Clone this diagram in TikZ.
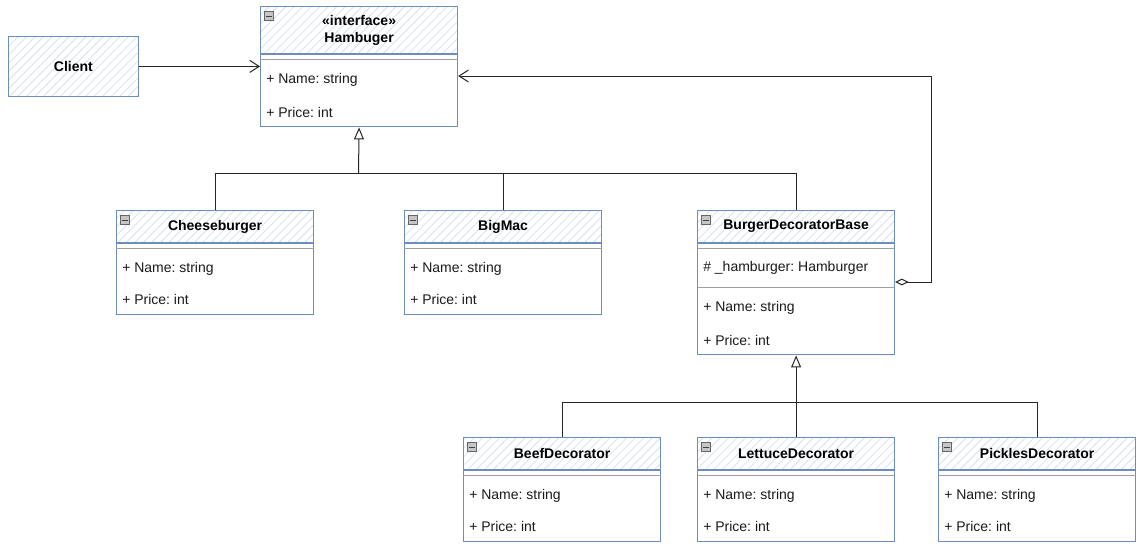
\documentclass[tikz,border=0pt]{standalone}
\usepackage{fontspec}
\setmainfont{Liberation Sans}
\usetikzlibrary{positioning,arrows.meta,patterns.meta,calc}
\definecolor{umlblue}{HTML}{6C8EBF}
\definecolor{hatchblue}{HTML}{D6E2F4}
\definecolor{sepgray}{HTML}{A0A0A0}
\definecolor{txtdark}{HTML}{1A1A1A}
\frenchspacing

\begin{document}
\begin{tikzpicture}[x=0.75pt, y=-0.75pt, font=\fontsize{10.5}{12}\selectfont,
  hatched/.style={draw=umlblue, line width=0.9pt, preaction={fill=white},
    pattern={Lines[angle=45,distance=4.5pt,line width=0.6pt]}, pattern color=hatchblue,
    inner sep=0pt, font=\bfseries\fontsize{10.5}{12}\selectfont, text=black},
  classhead/.style={hatched, anchor=north west, minimum width=147.75pt, minimum height=24pt},
  classbody/.style={draw=umlblue, line width=0.9pt, fill=white, minimum width=147.75pt, inner sep=0pt},
  attr/.style={anchor=west, inner sep=0pt, text=txtdark},
  sepline/.style={draw=sepgray, line width=0.75pt},
  minusbox/.style={draw=gray!80!black, fill=gray!45, anchor=north west, minimum size=7pt, inner sep=0pt,
    path picture={\draw[black!75, line width=0.5pt] ([xshift=1.4pt]path picture bounding box.west) -- ([xshift=-1.4pt]path picture bounding box.east);}},
  conn/.style={draw=black!85, line width=0.75pt},
  assoc/.style={conn, -{Straight Barb[length=7pt,width=9pt]}},
  inherit/.style={conn, -{Triangle[open, length=9pt, width=7.5pt, fill=white]}},
  aggreg/.style={conn, {Diamond[open, length=10pt, width=5pt, fill=white]}-{Straight Barb[length=7pt,width=9pt]}}]
\fill[white] (0,0) rectangle (1140,547);
\useasboundingbox (0,0) rectangle (1140,547);

% client
\node (client) [hatched, anchor=north west, minimum width=97.5pt, minimum height=45pt] at (8,36) {Client};

% interface
\node (ham-h) [classhead, minimum height=35.25pt, align=center, font=\bfseries\fontsize{10.5}{12.75}\selectfont] at (260,6) {«interface»\\Hambuger};
\node (ham) [classbody, minimum height=54pt, below=0pt of ham-h] {};
\draw[sepline] ($(ham.north west)+(0,5)$) -- ($(ham.north east)+(0,5)$);
\node[attr] (ham-a1) at ($(ham.north west)+(6,26)$) {+ Name: string};
\node[attr] (ham-a2) at ($(ham.north west)+(6,58)$) {+ Price: int};
\node[minusbox] at ($(ham-h.north west)+(4,5)$) {};

% concrete classes
\foreach \n/\x/\y/\t in {chz/116/210/Cheeseburger, mac/404/210/BigMac,
    beef/463/437/BeefDecorator, let/697/437/LettuceDecorator, pick/938/437/PicklesDecorator} {
  \node (\n-h) [classhead] at (\x,\y) {\t};
  \node (\n) [classbody, minimum height=53pt, below=0pt of \n-h] {};
  \draw[sepline] ($(\n.north west)+(0,5)$) -- ($(\n.north east)+(0,5)$);
  \node[attr] (\n-a1) at ($(\n.north west)+(6,25.5)$) {+ Name: string};
  \node[attr] (\n-a2) at ($(\n.north west)+(6,56.5)$) {+ Price: int};
  \node[minusbox] at ($(\n-h.north west)+(4,5)$) {};
}

% decorator base
\node (bdb-h) [classhead] at (697,210) {BurgerDecoratorBase};
\node (bdb) [classbody, minimum height=83.25pt, below=0pt of bdb-h] {};
\draw[sepline] ($(bdb.north west)+(0,5)$) -- ($(bdb.north east)+(0,5)$);
\node[attr] (bdb-f) at ($(bdb.north west)+(6,25)$) {\# \_hamburger: Hamburger};
\draw[sepline] ($(bdb.north west)+(0,44)$) -- ($(bdb.north east)+(0,44)$);
\node[attr] (bdb-a1) at ($(bdb.north west)+(6,65)$) {+ Name: string};
\node[attr] (bdb-a2) at ($(bdb.north west)+(6,97)$) {+ Price: int};
\node[minusbox] at ($(bdb-h.north west)+(4,5)$) {};

% connectors
\draw[assoc] (client.east) -- (client.east -| ham.west);

\coordinate (j1) at (358.5,173);
\draw[conn] (chz-h.north) |- (j1);
\draw[conn] (bdb-h.north) |- (j1);
\draw[conn] (mac-h.north) -- (mac-h.north |- j1);
\draw[inherit] (j1) -- (ham.south);

\coordinate (j2) at (795.5,402);
\draw[conn] (beef-h.north) |- (j2);
\draw[conn] (pick-h.north) |- (j2);
\draw[inherit] (let-h.north) -- (bdb.south);

\coordinate (agg) at (931,282);
\coordinate (aggtop) at (931,76);
\draw[aggreg] (agg -| bdb.east) -- (agg) -- (aggtop) -- (aggtop -| ham.east);
\end{tikzpicture}
\end{document}
